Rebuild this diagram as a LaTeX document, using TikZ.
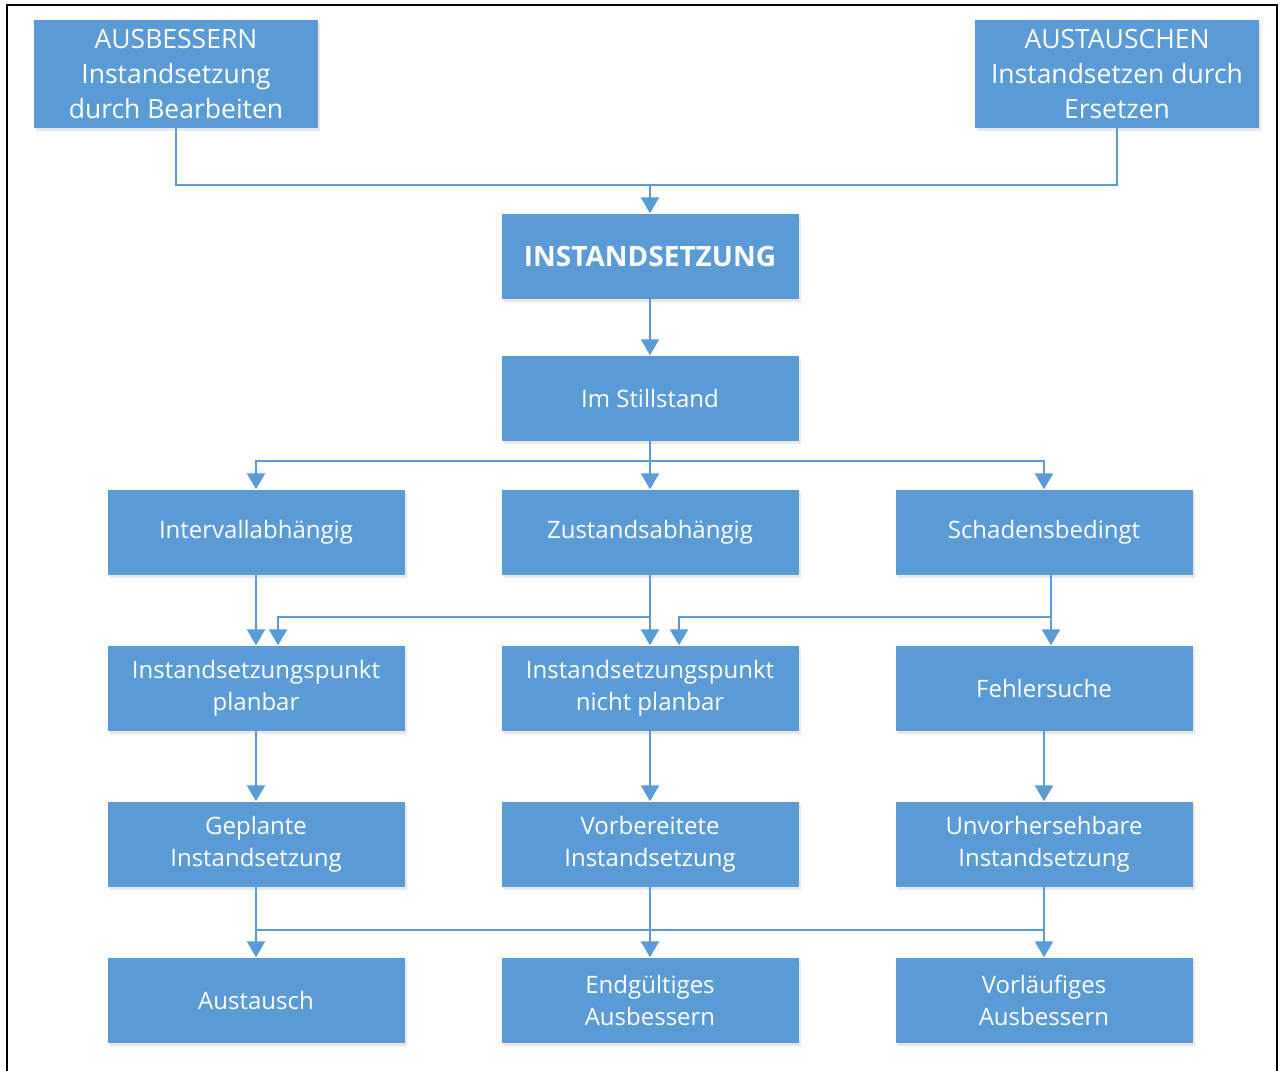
\documentclass[tikz,border=0pt]{standalone}
\usepackage{fontspec}
\setmainfont{Open Sans}
\usetikzlibrary{positioning,arrows.meta,calc,shadows}
\definecolor{boxblue}{HTML}{5B9BD5}

\begin{document}
\begin{tikzpicture}[x=1pt,y=-1pt,>={Triangle[width=18pt,length=16pt]},
  box/.style={fill=boxblue,text=white,align=center,minimum width=297pt,
    minimum height=85pt,inner sep=0pt,font=\fontsize{24}{32}\selectfont,
    drop shadow={opacity=.18,shadow xshift=2pt,shadow yshift=-3pt}},
  topbox/.style={box,minimum width=284pt,minimum height=108pt,
    font=\fontsize{26.5}{35}\selectfont},
  link/.style={line width=2.4pt,boxblue},
  arr/.style={link,->}]
 \useasboundingbox (0,0) rectangle (1280,1071);
 \draw[line width=2.5pt] (7,1075)--(7,5)--(1277,5)--(1277,1075);
 \node[topbox] (ausb) at (176,74) {AUSBESSERN\\Instandsetzung\\durch Bearbeiten};
 \node[topbox] (austa) at (1117,74) {AUSTAUSCHEN\\Instandsetzen durch\\Ersetzen};
 \node[box,font=\fontsize{28}{32}\selectfont\bfseries] (inst) at (650,256) {INSTANDSETZUNG};
 \node[box] (still) at (650,398) {Im Stillstand};
 \node[box] (interv) at (256,532) {Intervallabh\"angig};
 \node[box] (zust) at (650,532) {Zustandsabh\"angig};
 \node[box] (schad) at (1044,532) {Schadensbedingt};
 \node[box] (planb) at (256,688) {Instandsetzungspunkt\\planbar};
 \node[box] (nplan) at (650,688) {Instandsetzungspunkt\\nicht planbar};
 \node[box] (fehler) at (1044,688) {Fehlersuche};
 \node[box] (geplant) at (256,844) {Geplante\\Instandsetzung};
 \node[box] (vorb) at (650,844) {Vorbereitete\\Instandsetzung};
 \node[box] (unvor) at (1044,844) {Unvorhersehbare\\Instandsetzung};
 \node[box] (austausch) at (256,1000) {Austausch};
 \node[box] (endg) at (650,1000) {Endg\"ultiges\\Ausbessern};
 \node[box] (vorl) at (1044,1000) {Vorl\"aufiges\\Ausbessern};
 \coordinate (top) at (650,185);
 \coordinate (split) at (650,461);
 \coordinate (zbend) at (278,617);
 \coordinate (sbend) at (1051,617);
 \coordinate (bus) at (650,930);
 \draw[arr] (ausb.south) |- (top) -- (inst.north);
 \draw[link] (austa.south) |- (top);
 \draw[arr] (inst) -- (still);
 \draw[link] (still.south) -- (split);
 \draw[arr] (split) -- (zust.north);
 \draw[arr] (split) -| (interv.north);
 \draw[arr] (split) -| (schad.north);
 \draw[arr] (interv) -- (planb);
 \draw[arr] (zust) -- (nplan);
 \draw[arr] (zust.south) |- (zbend) -- (zbend |- planb.north);
 \draw[arr] (sbend |- schad.south) -- (sbend |- fehler.north);
 \draw[arr] (sbend) -| ($(nplan.north)+(29,0)$);
 \draw[arr] (planb) -- (geplant);
 \draw[arr] (nplan) -- (vorb);
 \draw[arr] (fehler) -- (unvor);
 \draw[link] (geplant.south |- bus) -- (unvor.south |- bus);
 \draw[arr] (geplant) -- (austausch);
 \draw[arr] (vorb) -- (endg);
 \draw[arr] (unvor) -- (vorl);
\end{tikzpicture}
\end{document}
